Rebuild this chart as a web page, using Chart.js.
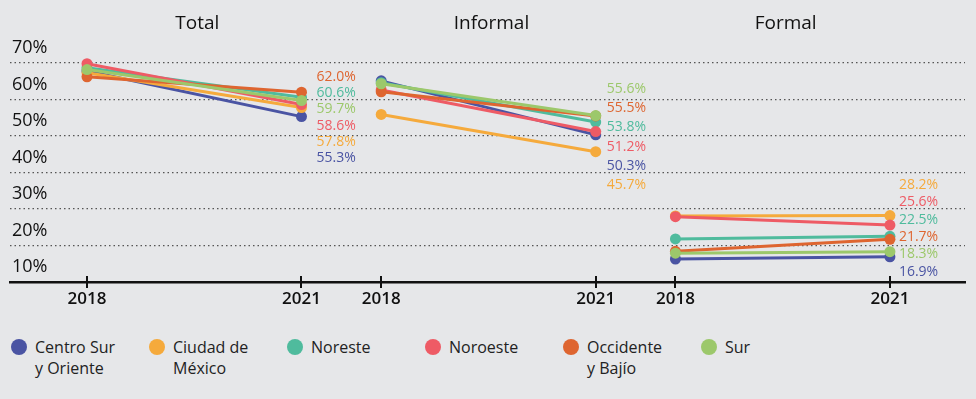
<!DOCTYPE html>
<html>
<head>
<meta charset="utf-8">
<script src="https://cdn.jsdelivr.net/npm/chart.js@4.4.1/dist/chart.umd.min.js"></script>
<style>
  body{margin:0;background:#e6e7e9;font-family:"Open Sans",sans-serif;}
  #wrap{position:relative;width:976px;height:330px;}
  #legend{position:absolute;left:11px;top:337px;display:flex;}
  .item{display:flex;align-items:flex-start;width:138px;}
  .dot{width:16px;height:16px;border-radius:50%;margin-top:2px;margin-right:8px;flex:none;}
  .txt{font-size:16px;line-height:21px;color:#222;}
</style>
</head>
<body>
<div id="wrap"><canvas id="graph"></canvas></div>
<div id="legend"></div>
<script>
const panels = ["Total", "Informal", "Formal"];
const years = [2018, 2021];
const regions = [["Centro Sur", "y Oriente"], ["Ciudad de", "México"], ["Noreste"], ["Noroeste"], ["Occidente", "y Bajío"], ["Sur"]];
const colors = ["#4a54a3", "#f5aa3c", "#4fbb9d", "#ee5b65", "#de6530", "#9cc86b"];
const yTicks = [10, 20, 30, 40, 50, 60, 70];

// [Total, Informal, Formal] -> [2018, 2021]
const centroSur = [[67.8, 55.3], [65.1, 50.3], [16.3, 16.9]];
const ciudadMexico = [[67.3, 57.8], [55.9, 45.7], [28.1, 28.2]];
const noreste = [[68.7, 60.6], [64.6, 53.8], [21.8, 22.5]];
const noroeste = [[69.8, 58.6], [62.6, 51.2], [27.9, 25.6]];
const occidente = [[66.2, 62.0], [62.1, 55.5], [18.4, 21.7]];
const sur = [[68.2, 59.7], [64.3, 55.6], [17.9, 18.3]];
const series = [centroSur, ciudadMexico, noreste, noroeste, occidente, sur];

const PANEL_GAP = 4.115;
const labelTop = [66.2, 62.9, 36.6];
const labelStep = [16.3, 19.3, 17.4];
const labelShift = [15, 11, 9];

function xPos(panel, year){
    return panel * PANEL_GAP + (year - years[0]);
}

const datasets = [];
panels.forEach((p, pi) => {
    series.forEach((s, si) => {
        datasets.push({
            label: regions[si].join(" ") + " - " + p,
            data: years.map((yr, k) => ({x: xPos(pi, yr), y: s[pi][k]})),
            borderColor: colors[si],
            backgroundColor: colors[si],
            borderWidth: 3,
            pointRadius: 5.5,
            pointHoverRadius: 5.5,
            pointBorderWidth: 0,
            tension: 0,
            order: series.length - si, // Sur au-dessus, Centro Sur en dessous
        });
    });
});

const valueLabels = {
    id: "valueLabels",
    afterDatasetsDraw(chart){
        const {ctx, scales: {x, y}} = chart;
        ctx.save();
        ctx.font = '14px "Open Sans"';
        ctx.textBaseline = "middle";
        ctx.textAlign = "left";
        panels.forEach((p, pi) => {
            const order = series.map((s, si) => si).sort((a, b) => series[b][pi][1] - series[a][pi][1]);
            const x0 = x.getPixelForValue(xPos(pi, years[1])) + labelShift[pi];
            const y0 = y.getPixelForValue(labelTop[pi]);
            order.forEach((si, k) => {
                ctx.fillStyle = colors[si];
                ctx.fillText(series[si][pi][1].toFixed(1) + "%", x0, y0 + k * labelStep[pi]);
            });
        });
        ctx.restore();
    }
};

const panelTitles = {
    id: "panelTitles",
    afterDraw(chart){
        const {ctx, scales: {x}, chartArea} = chart;
        ctx.save();
        ctx.font = '19px "Open Sans"';
        ctx.fillStyle = "#111";
        ctx.textAlign = "center";
        ctx.textBaseline = "middle";
        panels.forEach((p, pi) => {
            const cx = (x.getPixelForValue(xPos(pi, years[0])) + x.getPixelForValue(xPos(pi, years[1]))) / 2 + 3;
            ctx.fillText(p, cx, chartArea.top - 28);
        });
        // petites croix sur l'axe
        ctx.strokeStyle = "#111";
        ctx.lineWidth = 2;
        x.ticks.forEach((t) => {
            const px = Math.round(x.getPixelForValue(t.value));
            ctx.beginPath();
            ctx.moveTo(px, chartArea.bottom - 6);
            ctx.lineTo(px, chartArea.bottom + 6);
            ctx.stroke();
        });
        ctx.restore();
    }
};

new Chart(document.getElementById("graph"), {
    type: "line",
    data: { datasets },
    options: {
        responsive: true,
        maintainAspectRatio: false,
        animation: false,
        events: [],
        layout: { padding: { top: 52, left: 10, right: 11, bottom: 0 } },
        plugins: { legend: { display: false }, tooltip: { enabled: false } },
        scales: {
            x: {
                type: "linear",
                min: -1.077,
                max: 12.28,
                afterBuildTicks: (scale) => {
                    scale.ticks = panels.flatMap((p, pi) => years.map((yr) => ({value: xPos(pi, yr)})));
                },
                afterFit: (scale) => { scale.height = 48; },
                ticks: {
                    autoSkip: false,
                    maxRotation: 0,
                    padding: 7,
                    color: "#111",
                    font: { family: "Open Sans", size: 17, weight: "600" },
                    callback: (val, i) => years[i % years.length],
                },
                grid: { drawOnChartArea: false, drawTicks: false },
                border: { display: true, color: "#111", width: 2.5 },
            },
            y: {
                min: 10,
                max: 73,
                afterBuildTicks: (scale) => {
                    scale.ticks = yTicks.map((v) => ({value: v}));
                },
                afterFit: (scale) => { scale.width = 0; },
                ticks: {
                    mirror: true,
                    padding: 2,
                    labelOffset: -15,
                    color: "#111",
                    font: { family: "Open Sans", size: 18 },
                    callback: (val) => val + "%",
                },
                grid: { color: "#555", lineWidth: 1.3, drawTicks: false },
                border: { display: false, dash: [1.5, 3] },
            }
        }
    },
    plugins: [valueLabels, panelTitles]
});

const legend = document.getElementById("legend");
regions.forEach((r, i) => {
    legend.innerHTML += `<div class="item"><span class="dot" style="background:${colors[i]}"></span><span class="txt">${r.join("<br>")}</span></div>`;
});
</script>
</body>
</html>
